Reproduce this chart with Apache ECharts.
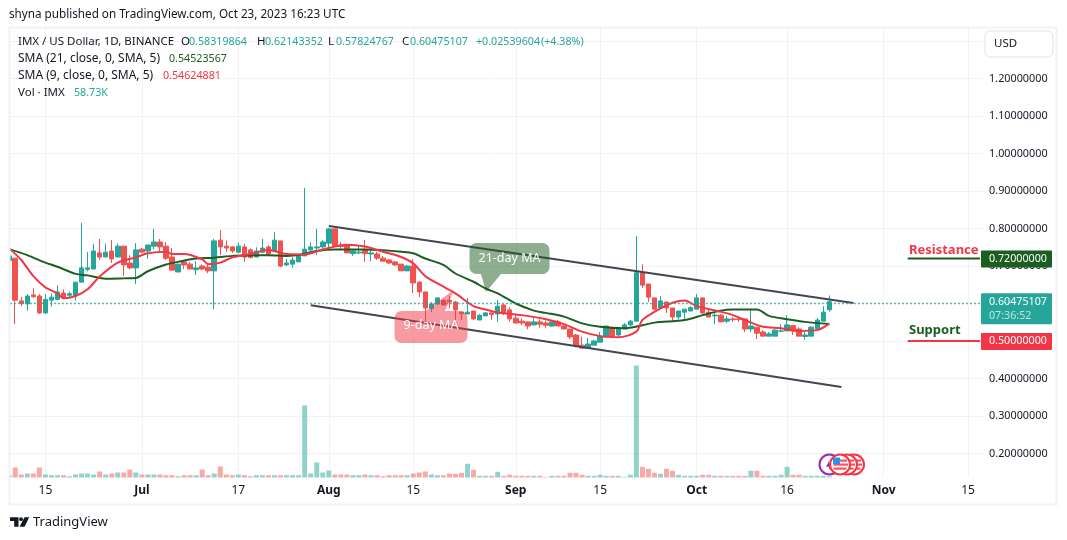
<!DOCTYPE html>
<html><head><meta charset="utf-8">
<style>html,body{margin:0;padding:0;background:#fff}#c{width:1067px;height:540px}</style>
<script src="https://cdn.jsdelivr.net/npm/echarts@6/dist/echarts.min.js"></script>
</head><body><div id="c"></div>
<script>
const opens=[.714,.721,.607,.599,.623,.620,.575,.609,.611,.628,
.622,.620,.657,.691,.692,.735,.724,.740,.724,.753,
.708,.695,.745,.740,.753,.764,.753,.724,.684,.711,
.705,.690,.700,.697,.687,.769,.753,.751,.737,.751,
.743,.724,.737,.751,.740,.767,.703,.705,.711,.727,
.743,.748,.751,.761,.799,.755,.756,.733,.735,.743,
.732,.732,.721,.716,.711,.705,.687,.700,.657,.631,
.587,.599,.609,.609,.604,.577,.572,.580,.556,.567,
.575,.572,.596,.583,.561,.553,.551,.543,.551,.548,
.540,.551,.540,.532,.516,.489,.481,.489,.497,.511,
.535,.516,.532,.543,.553,.682,.652,.615,.588,.604,
.588,.564,.577,.580,.585,.615,.577,.567,.569,.553,
.559,.559,.559,.532,.537,.524,.513,.513,.526,.527,
.541,.532,.512,.513,.532,.553,.58319864];
const closes=[.727,.609,.600,.620,.618,.575,.611,.617,.631,.616,
.626,.657,.695,.695,.740,.724,.737,.719,.753,.703,
.695,.743,.737,.756,.764,.751,.721,.689,.705,.703,
.692,.695,.692,.687,.767,.751,.748,.740,.753,.724,
.723,.740,.748,.732,.769,.700,.708,.716,.727,.745,
.751,.751,.764,.799,.753,.752,.735,.740,.737,.733,
.735,.721,.713,.708,.703,.687,.700,.655,.631,.588,
.599,.615,.596,.604,.583,.573,.577,.559,.569,.575,
.571,.593,.574,.559,.548,.548,.540,.551,.545,.542,
.551,.540,.532,.511,.487,.481,.492,.500,.513,.540,
.513,.532,.543,.553,.682,.649,.617,.585,.607,.588,
.564,.580,.585,.589,.615,.575,.564,.569,.551,.559,
.557,.557,.532,.540,.521,.513,.519,.529,.527,.543,
.527,.513,.516,.537,.556,.577,.60475107];
const lows=[.712,.545,.593,.581,.615,.572,.572,.592,.609,.611,
.616,.608,.657,.686,.692,.716,.724,.708,.724,.673,
.691,.652,.736,.719,.745,.740,.716,.689,.684,.692,
.692,.676,.689,.681,.585,.729,.738,.735,.734,.711,
.720,.723,.736,.729,.740,.697,.700,.695,.711,.727,
.740,.729,.746,.743,.753,.743,.735,.727,.732,.711,
.713,.716,.712,.705,.700,.687,.687,.628,.617,.550,
.577,.596,.594,.587,.556,.556,.572,.556,.556,.567,
.556,.551,.569,.552,.547,.542,.531,.542,.536,.534,
.538,.540,.532,.505,.483,.480,.481,.489,.497,.511,
.508,.513,.532,.540,.553,.641,.604,.583,.588,.575,
.551,.558,.559,.579,.585,.572,.564,.545,.551,.548,
.551,.551,.524,.524,.505,.513,.513,.513,.524,.527,
.516,.513,.503,.513,.532,.553,.57824767];
const highs=[.729,.721,.618,.625,.641,.625,.625,.627,.649,.638,
.632,.657,.815,.737,.759,.772,.760,.769,.760,.753,
.729,.761,.748,.756,.799,.772,.764,.748,.705,.716,
.711,.713,.704,.707,.772,.796,.768,.753,.762,.759,
.747,.750,.772,.756,.791,.767,.719,.724,.729,.908,
.764,.799,.769,.802,.799,.764,.759,.744,.753,.769,
.743,.738,.727,.719,.713,.705,.703,.719,.660,.631,
.604,.617,.611,.620,.607,.577,.615,.580,.571,.577,
.575,.609,.599,.590,.569,.560,.551,.560,.558,.554,
.554,.556,.543,.532,.519,.511,.508,.503,.524,.540,
.536,.535,.548,.556,.780,.705,.652,.615,.620,.604,
.588,.580,.585,.593,.625,.615,.583,.577,.572,.567,
.564,.564,.559,.585,.537,.529,.524,.532,.545,.569,
.543,.537,.524,.540,.561,.593,.62143352];
const volumesK=[115,500,150,200,200,500,150,115,115,115,
65,150,200,200,150,300,150,200,250,250,
400,250,150,150,150,150,115,115,65,115,
115,115,400,115,200,550,150,115,150,115,
65,115,115,115,115,115,115,115,115,3600,
200,750,250,350,150,150,150,115,115,150,
115,115,65,115,115,115,115,200,250,300,
150,115,115,200,185,235,685,385,85,85,
85,285,85,135,85,85,85,85,85,35,
85,85,85,235,235,135,85,85,135,85,
85,85,35,135,5600,535,435,235,185,435,
335,135,85,85,85,135,135,85,85,85,
85,85,85,335,335,85,85,85,135,535,
135,135,85,85,85,85,59];
const sma21=[[0,.745],[3,.729],[6,.709],[8,.698],[11,.679],[13,.675],[16,.666],[19,.667],[21,.668],[23,.686],[26,.704],[28,.711],[31,.720],[34,.722],[37,.727],[40,.728],[43,.729],[46,.727],[48,.729],[51,.740],[54,.744],[57,.744],[59,.744],[62,.742],[65,.738],[67,.734],[69,.720],[72,.703],[74,.680],[77,.658],[79,.640],[81,.627],[84,.600],[87,.581],[89,.575],[92,.565],[95,.547],[98,.538],[102,.534],[105,.542],[107,.549],[112,.556],[115,.569],[118,.581],[120,.584],[124,.584],[126,.567],[129,.558],[132,.551],[136,.54523567]];
const sma9=[[0,.747],[2,.716],[4,.673],[6,.643],[8,.627],[9,.614],[11,.620],[13,.638],[15,.672],[18,.709],[21,.723],[23,.734],[26,.738],[27,.732],[29,.732],[32,.718],[33,.705],[35,.709],[37,.723],[40,.732],[43,.743],[46,.732],[49,.731],[52,.744],[56,.757],[59,.752],[62,.738],[65,.724],[67,.707],[69,.673],[72,.645],[74,.627],[77,.593],[79,.584],[81,.576],[85,.569],[89,.558],[92,.545],[95,.525],[98,.513],[101,.510],[104,.525],[105,.556],[108,.587],[110,.602],[112,.608],[114,.593],[118,.578],[120,.569],[123,.549],[125,.538],[128,.534],[131,.527],[134,.529],[136,.54624881]];
const channelUpper=[[53,.8067],[140,.6013]];
const channelLower=[[50,.5952],[138,.3773]];
const resistanceLine=[[149,.72],[161,.72]];
const supportLine=[[149,.5],[161,.5]];
const timeTicks={'2023-06-15':'15','2023-07-01':'{b|Jul}','2023-07-17':'17','2023-08-01':'{b|Aug}','2023-08-15':'15','2023-09-01':'{b|Sep}','2023-09-15':'15','2023-10-01':'{b|Oct}','2023-10-16':'16','2023-11-01':'{b|Nov}','2023-11-15':'15'};
const hiddenPriceTicks=[.1,1.3,1.4];
const lastPrice=.60475107, countdown='07:36:52', resistance=.72, support=.5;

const dates=[];
for(let i=0;i<162;i++){dates.push(new Date(Date.UTC(2023,5,9+i)).toISOString().slice(0,10));}
const FONT='"Noto Sans",sans-serif';
const UP='#26a69a',DOWN='#ef5350',UPV='rgba(38,166,154,.5)',DOWNV='rgba(239,83,80,.5)';
const G='#f0f2f6',TXT='#131722',DG='#1b5e20',RD='#f23645';
const chart=echarts.init(document.getElementById('c'),null,{renderer:'canvas'});
const isTick=(i)=>timeTicks[dates[i]]!==undefined;
const gl=6.2,gw=976.9;
chart.setOption({
 animation:false,backgroundColor:'#fff',
 grid:[{left:gl,width:gw,top:3.5,height:487.5},{left:gl,width:gw,top:28,height:449.5}],
 xAxis:[
  {type:'category',gridIndex:0,data:dates,show:false,boundaryGap:true},
  {type:'category',gridIndex:1,data:dates,boundaryGap:true,axisLine:{show:false},axisTick:{show:false},
   axisLabel:{interval:(i)=>isTick(i),margin:7,color:TXT,fontSize:12,fontFamily:FONT,
    formatter:(v)=>timeTicks[v]||'',rich:{b:{fontWeight:'bold',fontSize:12,color:TXT,fontFamily:FONT}}},
   splitLine:{show:true,alignWithLabel:true,interval:(i)=>isTick(i),lineStyle:{color:G,width:1}}}
 ],
 yAxis:[
  {type:'value',gridIndex:0,position:'right',min:.1,max:1.4,interval:.1,axisLine:{show:false},axisTick:{show:false},
   axisLabel:{margin:6,color:TXT,fontSize:10.8,fontFamily:FONT,formatter:(v)=>hiddenPriceTicks.some(t=>Math.abs(t-v)<1e-6)?'':v.toFixed(8)},
   splitLine:{show:true,lineStyle:{color:['transparent',G,G,G,G,G,G,G,G,G,G,G,G,'transparent'],width:1}}},
  {type:'value',gridIndex:1,min:0,max:22475,show:false,splitLine:{show:false}}
 ],
 series:[
  {name:'Vol',type:'bar',xAxisIndex:1,yAxisIndex:1,barWidth:5,z:2,
   data:volumesK.map((v,i)=>({value:v,itemStyle:{color:closes[i]>=opens[i]?UPV:DOWNV}}))},
  {name:'IMX / US Dollar',type:'candlestick',xAxisIndex:0,yAxisIndex:0,barWidth:5,z:3,
   data:opens.map((o,i)=>[o,closes[i],lows[i],highs[i]]),
   itemStyle:{color:UP,color0:DOWN,borderColor:UP,borderColor0:DOWN,borderWidth:1},
   markLine:{silent:true,symbol:'none',label:{show:false},lineStyle:{color:UP,type:[1.5,2.5],width:1.3,opacity:1},data:[{yAxis:lastPrice}]}},
  {name:'SMA 21',type:'line',xAxisIndex:0,yAxisIndex:0,data:sma21,smooth:.3,showSymbol:false,z:4,lineStyle:{color:DG,width:2}},
  {name:'SMA 9',type:'line',xAxisIndex:0,yAxisIndex:0,data:sma9,smooth:.3,showSymbol:false,z:4,lineStyle:{color:RD,width:2}},
  {name:'Channel upper',type:'line',xAxisIndex:0,yAxisIndex:0,data:channelUpper,showSymbol:false,z:4,lineStyle:{color:'#434651',width:2}},
  {name:'Channel lower',type:'line',xAxisIndex:0,yAxisIndex:0,data:channelLower,showSymbol:false,z:4,lineStyle:{color:'#434651',width:2}},
  {name:'Resistance',type:'line',xAxisIndex:0,yAxisIndex:0,data:resistanceLine,showSymbol:false,z:4,lineStyle:{color:DG,width:2}},
  {name:'Support',type:'line',xAxisIndex:0,yAxisIndex:0,data:supportLine,showSymbol:false,z:4,lineStyle:{color:RD,width:2}}
 ]
});
const py=(v)=>chart.convertToPixel({yAxisIndex:0},v);
const txt=(x,y,t,fill,o={})=>({type:'text',z:o.z||30,silent:true,style:Object.assign({x,y,text:t,fill,font:(o.weight||'normal')+' '+(o.size||12)+'px '+FONT,textVerticalAlign:'middle',textAlign:o.align||'left'},o.style||{})});
const L=(x,y,t,c)=>txt(x,y,t,c,{size:11.5});
const N=(x,y,t,c)=>txt(x,y,t,c,{size:10.7});
const S=(x,y,t,c)=>txt(x,y,t,c,{size:12});
const flag=(cx,cy)=>[
 {type:'circle',z:40,silent:true,shape:{cx,cy,r:10},style:{fill:'#fff',stroke:RD,lineWidth:2}},
 {type:'rect',z:40,silent:true,shape:{x:cx-6.5,y:cy-1,width:14.5,height:2.2},style:{fill:'#f7525f'}},
 {type:'rect',z:40,silent:true,shape:{x:cx-6.5,y:cy+3,width:13,height:2.2},style:{fill:'#f7525f'}},
 {type:'rect',z:40,silent:true,shape:{x:cx,y:cy-5,width:7,height:2.2},style:{fill:'#f7525f'}},
 {type:'rect',z:40,silent:true,shape:{x:cx-7,y:cy-7,width:7,height:6.5},style:{fill:'#2196f3'}}
];
chart.setOption({graphic:{elements:[
 {type:'rect',z:50,silent:true,shape:{x:0,y:0,width:9,height:540},style:{fill:'#fff'}},
 {type:'rect',z:51,silent:true,shape:{x:9.5,y:27.5,width:1047,height:477},style:{fill:'none',stroke:'#f0f2f6',lineWidth:2}},
 txt(9,15,'shyna published on TradingView.com, Oct 23, 2023 16:23 UTC',TXT,{size:11.7}),
 L(18,42,'IMX / US Dollar, 1D, BINANCE',TXT),
 L(181,42,'O',TXT),N(189,42,'0.58319864',UP),
 L(257,42,'H',TXT),N(265,42,'0.62143352',UP),
 L(328,42,'L',TXT),N(336,42,'0.57824767',UP),
 L(402,42,'C',TXT),N(410,42,'0.60475107',UP),
 N(476,42,'+0.02539604',UP),N(541,42,'(+4.38%)',UP),
 S(18,59,'SMA (21, close, 0, SMA, 5)',TXT),N(169,59,'0.54523567',DG),
 S(18,76,'SMA (9, close, 0, SMA, 5)',TXT),N(163,76,'0.54624881',RD),
 L(18,93,'Vol · IMX',TXT),N(74,93,'58.73K',UP),
 {type:'rect',z:30,silent:true,shape:{x:985,y:31,width:68,height:26,r:5},style:{fill:'#fff',stroke:'#e0e3eb',lineWidth:1}},
 txt(994,44,'USD',TXT,{size:11.5}),
 {type:'rect',z:30,silent:true,shape:{x:981,y:py(resistance)-8,width:71,height:17,r:1},style:{fill:DG}},
 N(989,py(resistance),resistance.toFixed(8),'#fff'),
 {type:'rect',z:30,silent:true,shape:{x:981,y:py(lastPrice)-8.5,width:71,height:31,r:1},style:{fill:UP}},
 N(989,py(lastPrice),lastPrice.toFixed(8),'#fff'),
 N(989,py(lastPrice)+14,countdown,'rgba(255,255,255,.7)'),
 {type:'rect',z:30,silent:true,shape:{x:981,y:py(support)-8,width:71,height:17,r:1},style:{fill:RD}},
 N(989,py(support),support.toFixed(8),'#fff'),
 txt(909,py(resistance)-8,'Resistance',RD,{size:13,weight:'bold'}),
 txt(909,py(support)-11,'Support',DG,{size:13,weight:'bold'}),
 {type:'polygon',z:20,silent:true,shape:{points:[[481,274],[501,274],[486,292]]},style:{fill:'rgba(27,94,32,.5)'}},
 {type:'rect',z:20,silent:true,shape:{x:469.5,y:243,width:80,height:31,r:7},style:{fill:'rgba(27,94,32,.5)'}},
 txt(509.5,258,'21-day MA','#fff',{size:12.5,align:'center',z:21}),
 {type:'polygon',z:20,silent:true,shape:{points:[[426,311],[445,311],[454,289.5]]},style:{fill:'rgba(242,54,69,.5)'}},
 {type:'rect',z:20,silent:true,shape:{x:394.5,y:311,width:73,height:32,r:7},style:{fill:'rgba(242,54,69,.5)'}},
 txt(431,325.5,'9-day MA','#fff',{size:12.5,align:'center',z:21}),
 {type:'circle',z:39,silent:true,shape:{cx:829.5,cy:464.5,r:10},style:{fill:'#fff',stroke:'#9c27b0',lineWidth:2}},
 {type:'polygon',z:39,silent:true,shape:{points:[[826,467],[829,461],[829,464.5],[832,464],[829,470],[829,466.5]]},style:{fill:'#9c27b0'}},
 ...flag(854,464.5),...flag(847,464.5),...flag(840,464.5),
 {type:'polygon',z:30,silent:true,shape:{points:[[10,517.3],[18.5,517.3],[18.5,526.7],[14.2,526.7],[14.2,521],[10,521]]},style:{fill:TXT}},
 {type:'circle',z:30,silent:true,shape:{cx:21,cy:519.2,r:1.9},style:{fill:TXT}},
 {type:'polygon',z:30,silent:true,shape:{points:[[24.5,517.3],[29.2,517.3],[24.5,526.7],[19.5,526.7]]},style:{fill:TXT}},
 txt(33,522,'TradingView',TXT,{size:13})
]}});
</script></body></html>
